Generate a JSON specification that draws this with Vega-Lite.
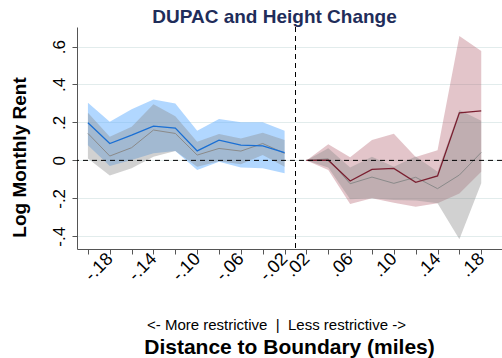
{
  "$schema": "https://vega.github.io/schema/vega-lite/v6.json",
  "width": 425,
  "height": 222,
  "autosize": {"type": "none"},
  "padding": {"left": 77, "top": 27, "right": 0, "bottom": 109},
  "background": "white",
  "config": {
    "view": {"stroke": null},
    "font": "Liberation Sans",
    "axis": {"labelFont": "Liberation Sans", "titleFont": "Liberation Sans"}
  },
  "title": {
    "text": "DUPAC and Height Change",
    "font": "Liberation Sans",
    "fontSize": 19,
    "fontWeight": "bold",
    "color": "#1f2d5a",
    "anchor": "middle",
    "baseline": "alphabetic",
    "offset": 4,
    "dx": -15,
    "dy": 19
  },
  "layer": [
    {
      "data": {
        "values": [
          {"pos": 0, "side": "L", "m": 0.198, "lo": 0.08, "hi": 0.304, "g": 0.142, "glo": 0.01, "ghi": 0.251},
          {"pos": 1, "side": "L", "m": 0.089, "lo": -0.03, "hi": 0.204, "g": 0.023, "glo": -0.08, "ghi": 0.125},
          {"pos": 2, "side": "L", "m": 0.133, "lo": 0.002, "hi": 0.27, "g": 0.067, "glo": -0.042, "ghi": 0.177},
          {"pos": 3, "side": "L", "m": 0.181, "lo": 0.037, "hi": 0.321, "g": 0.16, "glo": 0.019, "ghi": 0.296},
          {"pos": 4, "side": "L", "m": 0.17, "lo": 0.05, "hi": 0.3, "g": 0.142, "glo": 0.05, "ghi": 0.233},
          {"pos": 5, "side": "L", "m": 0.05, "lo": -0.051, "hi": 0.156, "g": 0.028, "glo": -0.033, "ghi": 0.098},
          {"pos": 6, "side": "L", "m": 0.107, "lo": -0.007, "hi": 0.218, "g": 0.063, "glo": -0.004, "ghi": 0.139},
          {"pos": 7, "side": "L", "m": 0.08, "lo": -0.037, "hi": 0.201, "g": 0.049, "glo": -0.02, "ghi": 0.116},
          {"pos": 8, "side": "L", "m": 0.076, "lo": -0.042, "hi": 0.201, "g": 0.089, "glo": 0.028, "ghi": 0.146},
          {"pos": 9, "side": "L", "m": 0.041, "lo": -0.068, "hi": 0.156, "g": 0.037, "glo": -0.033, "ghi": 0.107},
          {"pos": 10, "side": "R", "m": 0, "lo": 0, "hi": 0, "g": 0, "glo": 0, "ghi": 0},
          {"pos": 11, "side": "R", "m": 0.001, "lo": -0.051, "hi": 0.085, "g": 0.008, "glo": -0.037, "ghi": 0.064},
          {"pos": 12, "side": "R", "m": -0.109, "lo": -0.23, "hi": 0.017, "g": -0.123, "glo": -0.205, "ghi": -0.038},
          {"pos": 13, "side": "R", "m": -0.047, "lo": -0.2, "hi": 0.107, "g": -0.088, "glo": -0.2, "ghi": 0.019},
          {"pos": 14, "side": "R", "m": -0.042, "lo": -0.223, "hi": 0.141, "g": -0.121, "glo": -0.209, "ghi": -0.034},
          {"pos": 15, "side": "R", "m": -0.116, "lo": -0.244, "hi": 0.018, "g": -0.089, "glo": -0.212, "ghi": 0.02},
          {"pos": 16, "side": "R", "m": -0.082, "lo": -0.226, "hi": 0.053, "g": -0.149, "glo": -0.226, "ghi": -0.06},
          {"pos": 17, "side": "R", "m": 0.251, "lo": -0.174, "hi": 0.656, "g": -0.077, "glo": -0.416, "ghi": 0.265},
          {"pos": 18, "side": "R", "m": 0.261, "lo": -0.06, "hi": 0.577, "g": 0.042, "glo": -0.12, "ghi": 0.209}
        ]
      },
      "encoding": {
        "x": {
          "field": "pos",
          "type": "quantitative",
          "scale": {"domain": [-0.5, 18.95], "nice": false, "zero": false},
          "axis": {
            "values": [0,1,2,3,4,5,6,7,8,9,10,11,12,13,14,15,16,17,18],
            "labelExpr": "['','-.18','','-.14','','-.10','','-.06','','-.02','.02','','.06','','.10','','.14','','.18'][datum.value]",
            "labelAngle": -45,
            "labelAlign": "right",
            "labelBaseline": "middle",
            "labelFontSize": 18,
            "labelColor": "black",
            "labelPadding": 2,
            "labelOverlap": false,
            "labelBound": false,
            "labelFlush": false,
            "tickSize": 5,
            "tickColor": "#555555",
            "domainColor": "#555555",
            "grid": false,
            "title": "Distance to Boundary (miles)",
            "titleFontSize": 21,
            "titleFontWeight": "bold",
            "titleColor": "black",
            "titleAlign": "center",
            "titleBaseline": "alphabetic",
            "titleX": 212,
            "titleY": 104
          }
        }
      },
      "layer": [
        {
          "transform": [{"filter": "datum.side == 'L'"}],
          "mark": {"type": "area", "color": "#64b0ff", "opacity": 0.5},
          "encoding": {
            "y": {
              "field": "lo",
              "type": "quantitative",
              "title": "Log Monthly Rent",
              "scale": {"domain": [-0.467, 0.703], "nice": false, "zero": false},
              "axis": {
                "values": [-0.4, -0.2, 0, 0.2, 0.4, 0.6],
                "labelExpr": "datum.value < -0.3 ? '-.4' : datum.value < -0.1 ? '-.2' : datum.value < 0.1 ? '0' : datum.value < 0.3 ? '.2' : datum.value < 0.5 ? '.4' : '.6'",
                "labelAngle": -90,
                "labelAlign": "center",
                "labelBaseline": "bottom",
                "labelFontSize": 17,
                "labelColor": "black",
                "labelPadding": 4,
                "labelOverlap": false,
                "labelBound": false,
                "labelFlush": false,
                "tickSize": 5,
                "tickColor": "#555555",
                "domainColor": "#555555",
                "grid": true,
                "gridColor": "#e2ecec",
                "gridWidth": 1,
                "titleFontSize": 19,
                "titleFontWeight": "bold",
                "titleColor": "black",
                "titleAngle": -90,
                "titleAlign": "center",
                "titleBaseline": "alphabetic",
                "titleX": -52,
                "titleY": 130
              }
            },
            "y2": {"field": "hi"}
          }
        },
        {
          "transform": [{"filter": "datum.side == 'R'"}],
          "mark": {"type": "area", "color": "#b05a68", "opacity": 0.35},
          "encoding": {
            "y": {"field": "lo", "type": "quantitative", "title": "Log Monthly Rent"},
            "y2": {"field": "hi"}
          }
        },
        {
          "mark": {"type": "area", "color": "#8c8c8c", "opacity": 0.4},
          "encoding": {
            "y": {"field": "glo", "type": "quantitative", "title": "Log Monthly Rent"},
            "y2": {"field": "ghi"},
            "detail": {"field": "side", "type": "nominal"}
          }
        },
        {
          "mark": {"type": "line", "color": "#8a8a8a", "strokeWidth": 1},
          "encoding": {
            "y": {"field": "g", "type": "quantitative", "title": "Log Monthly Rent"},
            "detail": {"field": "side", "type": "nominal"}
          }
        },
        {
          "transform": [{"filter": "datum.side == 'L'"}],
          "mark": {"type": "line", "color": "#1a6fd4", "strokeWidth": 1.3},
          "encoding": {
            "y": {"field": "m", "type": "quantitative", "title": "Log Monthly Rent"}
          }
        },
        {
          "transform": [{"filter": "datum.side == 'R'"}],
          "mark": {"type": "line", "color": "#7a1f30", "strokeWidth": 1.3},
          "encoding": {
            "y": {"field": "m", "type": "quantitative", "title": "Log Monthly Rent"}
          }
        }
      ]
    },
    {
      "data": {"values": [{"b": 9.5}]},
      "mark": {"type": "rule", "color": "black", "strokeWidth": 1, "strokeDash": [5, 4]},
      "encoding": {
        "x": {
          "field": "b",
          "type": "quantitative",
          "scale": {"domain": [-0.5, 18.95], "nice": false, "zero": false},
          "axis": {
            "orient": "bottom",
            "domain": false,
            "ticks": false,
            "labels": false,
            "grid": false,
            "title": "<- More restrictive \u00a0|\u00a0 Less restrictive ->",
            "titleFontSize": 15,
            "titleFontWeight": "normal",
            "titleColor": "black",
            "titleAlign": "center",
            "titleBaseline": "alphabetic",
            "titleX": 199,
            "titleY": 80
          }
        }
      }
    },
    {
      "data": {"values": [{"z": 0}]},
      "mark": {"type": "rule", "color": "black", "strokeWidth": 1, "strokeDash": [5, 4]},
      "encoding": {
        "y": {"field": "z", "type": "quantitative", "title": "Log Monthly Rent"}
      }
    }
  ],
  "resolve": {"axis": {"x": "independent"}}
}
